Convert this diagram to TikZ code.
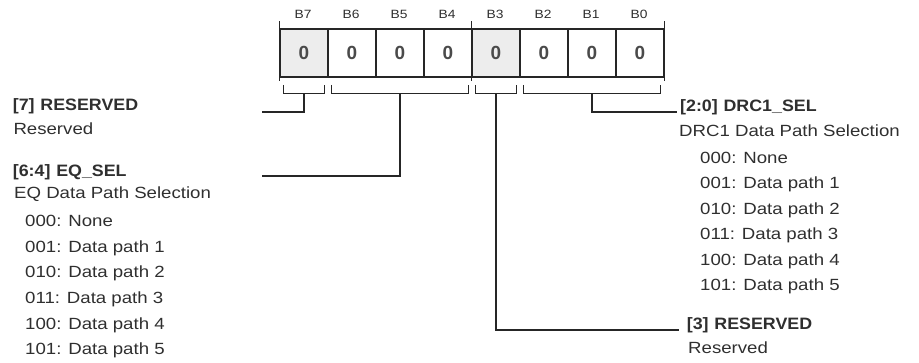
\documentclass[tikz,border=0pt]{standalone}
\usepackage{fontspec}
\setmainfont{Liberation Sans}
\newfontfamily\descfont[FakeStretch=1.15]{Liberation Sans}
\newfontfamily\headfont[FakeStretch=1.08]{Liberation Sans}
\usetikzlibrary{positioning,calc}
\definecolor{regink}{HTML}{262626}
\definecolor{regtext}{HTML}{2F2F2F}
\definecolor{regval}{HTML}{4A4A4A}
\definecolor{regshade}{HTML}{EDEDED}
\tikzset{
  bitcell/.style   = {draw=regink, line width=1.5pt, minimum width=48pt, minimum height=48pt,
                      inner sep=0pt, text=regval, font=\fontsize{19}{19}\selectfont\bfseries},
  bitname/.style   = {text=regtext, inner sep=0pt, font=\descfont\fontsize{12}{12}\selectfont},
  fieldhead/.style = {anchor=base west, inner sep=0pt, text=regtext,
                      font=\headfont\fontsize{16.5}{17}\selectfont\bfseries},
  fieldtext/.style = {anchor=base west, inner sep=0pt, text=regtext,
                      font=\descfont\fontsize{16.2}{17}\selectfont},
  brace/.style     = {draw=regink, line width=1.4pt},
  leader/.style    = {draw=regink, line width=1.5pt},
  regtick/.style   = {draw=regink, line width=1.1pt},
}

\begin{document}
\begin{tikzpicture}[x=1pt,y=-1pt]
\useasboundingbox (0,0) rectangle (919,362);
% register cells, B7 on the left
\foreach \i/\f [count=\k from 0] in {7/regshade,6/white,5/white,4/white,3/regshade,2/white,1/white,0/white}{%
  \node[bitcell,fill=\f] (b\i) at (304+48*\k,53) {0};
  \node[bitname] (n\i) at ($(b\i.north)+(-1,-13.5)$) {B\i};}
% nibble ticks
\foreach \c/\a in {b7/north west,b3/north west,b0/north east}
  \draw[regtick] ($(\c.\a)+(0,-7)$) -- ++(0,60);
% field brackets under the cells
\foreach \a/\b in {b7/b7,b6/b4,b3/b3,b2/b0}
  \draw[brace] ($(\a.south west)+(4,7)$) -- ++(0,9) -- ($(\b.south east)+(-4,16)$) -- ++(0,-9);
% stem points and leader ends
\coordinate (s7) at ($(b7.south)+(0,16)$);
\coordinate (s64) at ($(b5.south)+(0,16)$);
\coordinate (s3) at ($(b3.south)+(0,16)$);
\coordinate (s20) at ($(b1.south)+(0,16)$);
\coordinate (e7) at (262,112);
\coordinate (e64) at (262,176);
\coordinate (e3) at (679,330);
\coordinate (e20) at (677,112);
\draw[leader] (s7) |- (e7);
\draw[leader] (s64) |- (e64);
\draw[leader] (s3) |- (e3);
\draw[leader] (s20) |- (e20);
% left side fields
\node[fieldhead] (h7) at (12.7,110.7) {[7]\hspace{0.35em}RESERVED};
\node[fieldtext] (d7) at (13.3,134.3) {Reserved};
\node[fieldhead] (h64) at (12.7,176) {[6:4]\hspace{0.35em}EQ\_SEL};
\node[fieldtext] (d64) at (14,198.3) {EQ Data Path Selection};
\foreach \t [count=\k from 0] in {000: None,001: Data path 1,010: Data path 2,011: Data path 3,100: Data path 4,101: Data path 5}
  \node[fieldtext] (eq\k) at (25,226.7+25.6*\k) {\t};
% right side fields
\node[fieldhead] (h20) at (680,111.5) {[2:0]\hspace{0.35em}DRC1\_SEL};
\node[fieldtext] (d20) at (679,136.7) {DRC1 Data Path Selection};
\foreach \t [count=\k from 0] in {000: None,001: Data path 1,010: Data path 2,011: Data path 3,100: Data path 4,101: Data path 5}
  \node[fieldtext] (drc\k) at (700,163.3+25.5*\k) {\t};
\node[fieldhead] (h3) at (686.7,329.3) {[3]\hspace{0.35em}RESERVED};
\node[fieldtext] (d3) at (688,353.3) {Reserved};
\end{tikzpicture}
\end{document}
